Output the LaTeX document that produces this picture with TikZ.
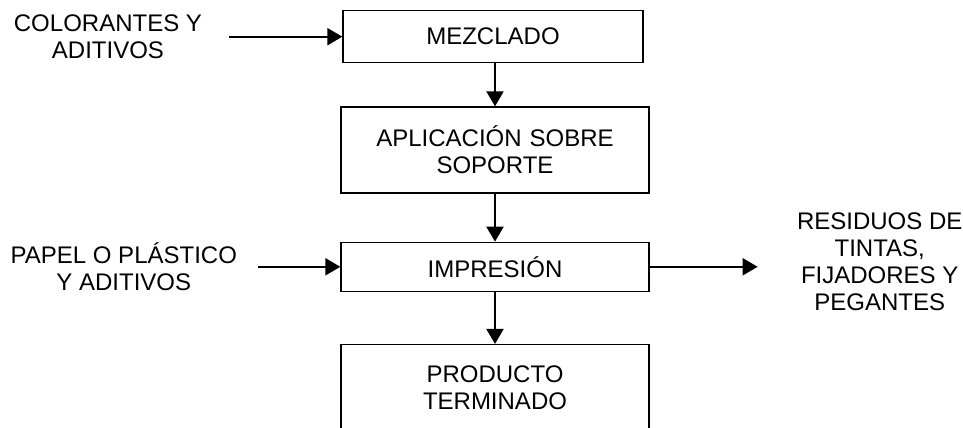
\documentclass[tikz,border=0pt]{standalone}
\usepackage{fontspec}
\setmainfont{Liberation Sans}
\usepackage{tikz}
\usetikzlibrary{arrows.meta,positioning}
\tikzset{
  proceso/.style={
    rectangle,
    draw=black,
    line width=0.65pt,
    fill=white,
    align=center,
    inner sep=0pt,
    text width=154pt,
    minimum height=24pt
  },
  etiqueta/.style={
    align=center,
    inner sep=0pt
  },
  flecha/.style={-{Triangle[length=7.5pt,width=8.5pt]},line width=1pt,draw=black}
}

\begin{document}
\begin{tikzpicture}[font=\fontsize{12}{13.5}\selectfont]
    \useasboundingbox (0,0) rectangle (481.5pt,-214pt);
    \node[proceso,minimum height=43pt] (aplicacion) at (247.5pt,-75pt) {APLICACIÓN SOBRE\\SOPORTE};
    \node[proceso,text width=150pt,minimum height=26pt,above=21.5pt of aplicacion,xshift=-1pt] (mezclado) {MEZCLADO};
    \node[proceso,minimum height=24.5pt,below=24pt of aplicacion] (impresion) {IMPRESIÓN};
    \node[proceso,minimum height=43.5pt,below=26pt of impresion] (producto) {PRODUCTO\\TERMINADO};

    \node[etiqueta,left=70pt of mezclado] (colorantes) {COLORANTES Y\\ADITIVOS};
    \node[etiqueta,left=51.5pt of impresion] (papel) {PAPEL O PLÁSTICO\\Y ADITIVOS};
    \node[etiqueta,right=73.5pt of impresion,yshift=2.75pt] (residuos) {RESIDUOS DE\\TINTAS,\\FIJADORES Y\\PEGANTES};

    \draw[flecha,shorten <=13.5pt] (colorantes.east) -- (mezclado.west);
    \draw[flecha] (aplicacion.north |- mezclado.south) -- (aplicacion.north);
    \draw[flecha] (aplicacion) -- (impresion);
    \draw[flecha,shorten <=10.5pt] (papel.east) -- (impresion.west);
    \draw[flecha,shorten >=19.5pt] (impresion.east) -- (impresion.east -| residuos.west);
    \draw[flecha] (impresion) -- (producto);
  \end{tikzpicture}
\end{document}
